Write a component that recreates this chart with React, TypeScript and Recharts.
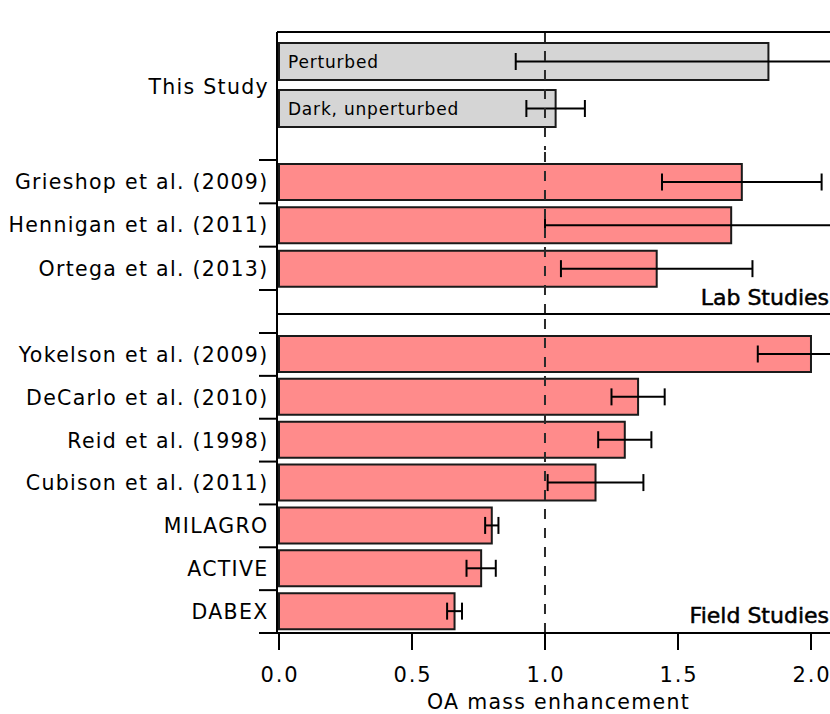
import {
  Bar,
  BarChart,
  ErrorBar,
  Label,
  LabelList,
  ReferenceLine,
  XAxis,
  YAxis
} from "recharts";

// values
const studyNames = ["Perturbed", "Dark, unperturbed"];
const studyValues = [1.84, 1.04];
const studyErrors = [0.95, 0.11];

const labNames = ["Grieshop et al. (2009)", "Hennigan et al. (2011)", "Ortega et al. (2013)"];
const labValues = [1.74, 1.7, 1.42];
const labErrors = [0.3, 0.7, 0.36];

const fieldNames = [
  "Yokelson et al. (2009)",
  "DeCarlo et al. (2010)",
  "Reid et al. (1998)",
  "Cubison et al. (2011)",
  "MILAGRO",
  "ACTIVE",
  "DABEX"
];
const fieldValues = [2.0, 1.35, 1.3, 1.19, 0.8, 0.76, 0.66];
const fieldErrors = [0.2, 0.1, 0.1, 0.18, 0.025, 0.055, 0.028];

const groupLabels = ["This Study", "Lab Studies", "Field Studies"];
const xTicks = [0, 0.5, 1, 1.5, 2];
const xTitle = "OA mass enhancement";

const W = 830;
const H = 714;
const AXIS_X = 277;
const FONT = "'DejaVu Sans', sans-serif";
const X_DOMAIN: [number, number] = [-0.0075, 2.0715];
const GREY = "#d5d5d5";
const RED = "#ff8b8b";
const EDGE = "#1a1a1a";

type Row = { name: string; value: number; err: number };

const toRows = (names: string[], values: number[], errors: number[]): Row[] =>
  names.map((name, i) => ({ name, value: values[i], err: errors[i] }));

const labelStyle = { fontFamily: FONT, fontSize: 20.5, letterSpacing: "1.3px", fill: "#000" };
const tickStyle = { fontFamily: FONT, fontSize: 21, letterSpacing: "1.8px", fill: "#000" };

type PanelProps = {
  data: Row[];
  plotTop: number;
  plotBottom: number;
  padTop: number;
  padBottom: number;
  fill: string;
  barSize: number;
  group?: boolean;
  axis: "top" | "line" | "bottom";
};

const Panel = ({ data, plotTop, plotBottom, padTop, padBottom, fill, barSize, group, axis }: PanelProps) => {
  const axisHeight = axis === "top" ? 32 : axis === "line" ? 2 : 81;
  const margin =
    axis === "top"
      ? { top: plotTop - axisHeight, right: 0, bottom: H - plotBottom, left: 0 }
      : { top: plotTop, right: 0, bottom: H - plotBottom - axisHeight, left: 0 };
  const band = (plotBottom - plotTop - padTop - padBottom) / data.length;

  const renderCategory = (p: any) => {
    const half = band / 2;
    if (group) {
      if (p.index !== 0) return <g />;
      return (
        <text x={269} y={p.y + half + 2} dy="0.36em" textAnchor="end" style={labelStyle}>
          {groupLabels[0]}
        </text>
      );
    }
    return (
      <g>
        <line x1={AXIS_X - 18} x2={AXIS_X} y1={p.y - half} y2={p.y - half} stroke="#000" strokeWidth={2} />
        {p.index === data.length - 1 ? (
          <line x1={AXIS_X - 18} x2={AXIS_X} y1={p.y + half} y2={p.y + half} stroke="#000" strokeWidth={2} />
        ) : null}
        <text x={268.5} y={p.y} dy="0.36em" textAnchor="end" style={labelStyle}>
          {p.payload.value}
        </text>
      </g>
    );
  };

  const renderInside = (p: any) => (
    <text
      x={p.x + 9}
      y={p.y + p.height / 2}
      dy="0.36em"
      style={{ fontFamily: FONT, fontSize: 17, letterSpacing: "0.8px", fill: "#000" }}
    >
      {p.value}
    </text>
  );

  return (
    <div style={{ position: "absolute", left: 0, top: 0 }}>
      <BarChart width={W} height={H} data={data} layout="vertical" margin={margin}>
        <XAxis
          type="number"
          orientation={axis === "top" ? "top" : "bottom"}
          domain={X_DOMAIN}
          allowDataOverflow
          ticks={xTicks}
          height={axisHeight}
          axisLine={{ stroke: "#000", strokeWidth: 2 }}
          tickLine={axis === "line" ? false : { stroke: "#000", strokeWidth: 2 }}
          tickSize={17}
          tickMargin={17}
          tick={
            axis === "bottom"
              ? (p: any) => (
                  <text x={p.x + 1} y={p.y} dy="0.71em" textAnchor="middle" style={tickStyle}>
                    {Number(p.payload.value).toFixed(1)}
                  </text>
                )
              : false
          }
        >
          {axis === "bottom" ? (
            <Label
              content={(p: any) => (
                <text
                  x={p.viewBox.x + p.viewBox.width / 2 + 5}
                  y={p.viewBox.y + p.viewBox.height - 5}
                  textAnchor="middle"
                  style={labelStyle}
                >
                  {xTitle}
                </text>
              )}
            />
          ) : null}
        </XAxis>
        <YAxis
          type="category"
          dataKey="name"
          width={AXIS_X}
          interval={0}
          padding={{ top: padTop, bottom: padBottom }}
          axisLine={{ stroke: "#000", strokeWidth: 2 }}
          tickLine={false}
          tick={renderCategory}
        />
        <Bar dataKey="value" fill={fill} stroke={EDGE} strokeWidth={2} barSize={barSize} isAnimationActive={false}>
          <ErrorBar dataKey="err" direction="x" width={8.5} stroke="#000" strokeWidth={2} isAnimationActive={false} />
          {group ? <LabelList dataKey="name" content={renderInside} /> : null}
        </Bar>
        <ReferenceLine x={1} stroke="#2a2a2a" strokeWidth={2} strokeDasharray="10 9" />
      </BarChart>
    </div>
  );
};

export default function App() {
  const studyRows = toRows(studyNames, studyValues, studyErrors);
  const labRows = toRows(labNames, labValues, labErrors);
  const fieldRows = toRows(fieldNames, fieldValues, fieldErrors);

  const groupStyle = { fontFamily: FONT, fontSize: 22, fill: "#000", stroke: "#000", strokeWidth: 0.5 };

  return (
    <div style={{ position: "absolute", left: 0, top: 0, width: W, height: H, background: "#fff" }}>
      <Panel data={studyRows} plotTop={32} plotBottom={150} padTop={6} padBottom={18} fill={GREY} barSize={37} group axis="top" />
      <Panel data={labRows} plotTop={150} plotBottom={314} padTop={10} padBottom={24} fill={RED} barSize={36} axis="line" />
      <Panel data={fieldRows} plotTop={314} plotBottom={633} padTop={19} padBottom={0} fill={RED} barSize={36} axis="bottom" />
      <svg width={W} height={H} style={{ position: "absolute", left: 0, top: 0, pointerEvents: "none" }}>
        <text x={829} y={305} textAnchor="end" style={groupStyle}>
          {groupLabels[1]}
        </text>
        <text x={829} y={623} textAnchor="end" style={groupStyle}>
          {groupLabels[2]}
        </text>
      </svg>
    </div>
  );
}
